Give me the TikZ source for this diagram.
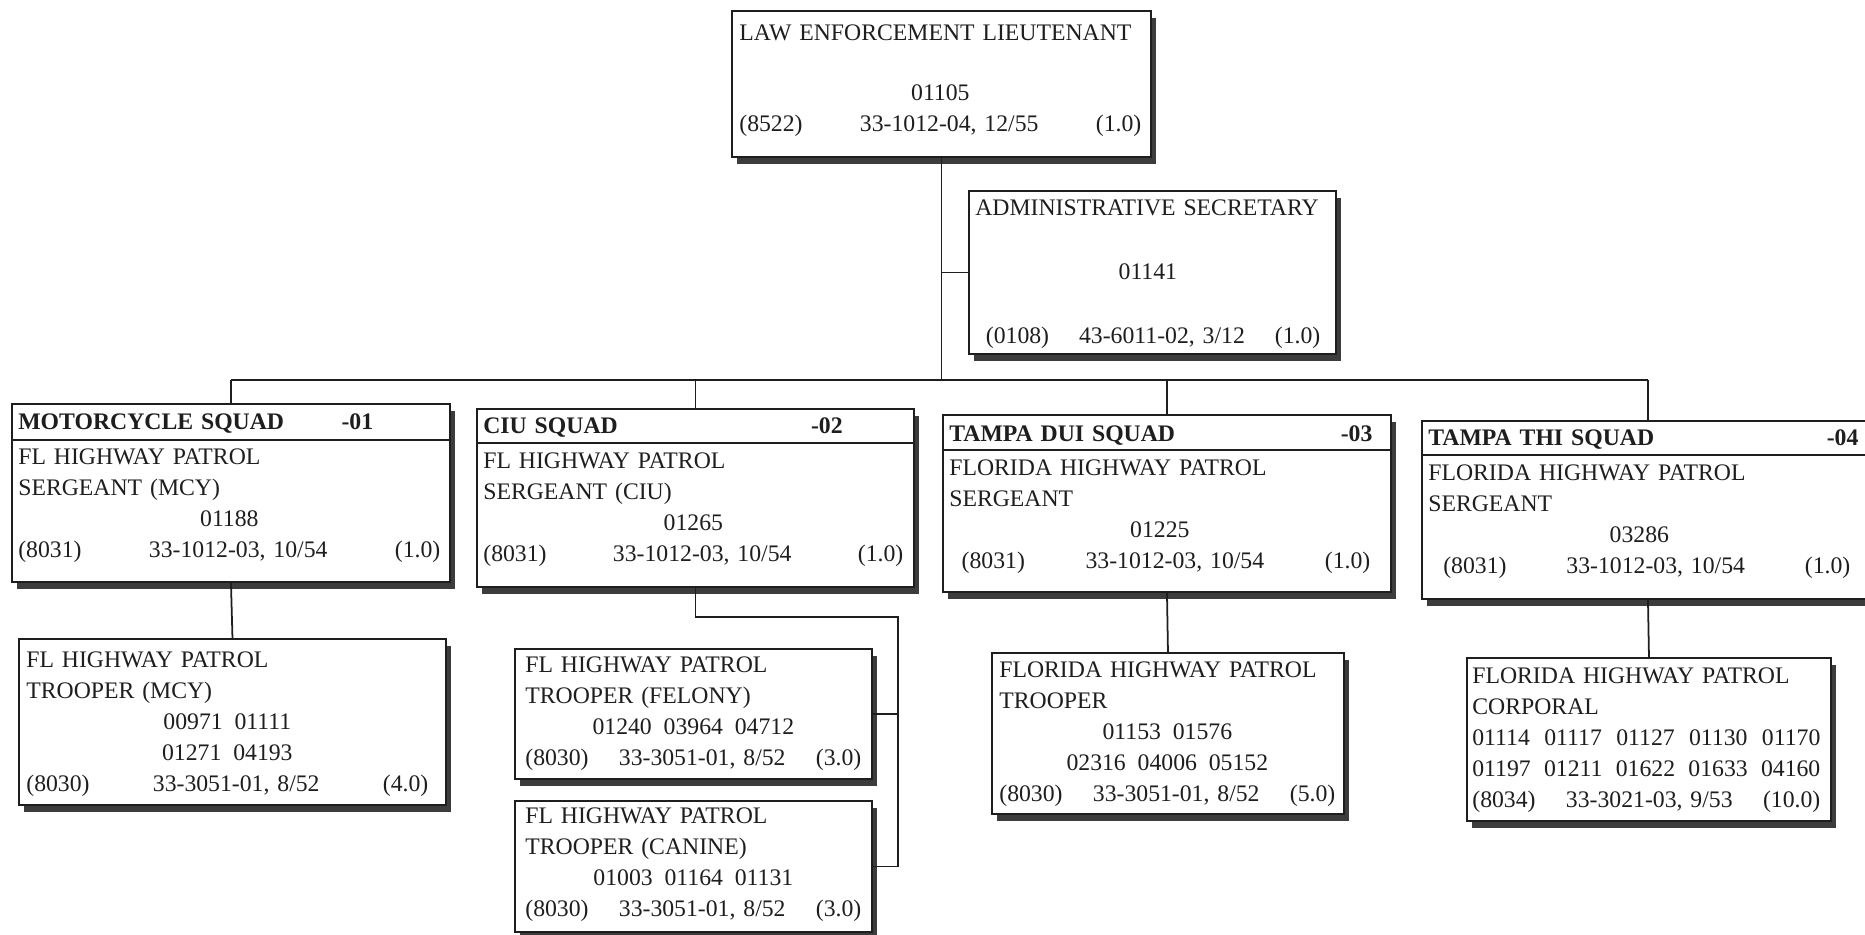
\documentclass[tikz,border=0pt]{standalone}
\usepackage{fontspec}
\setmainfont{Liberation Serif}
\usetikzlibrary{positioning, shadows}
\definecolor{ink}{HTML}{1E1E1E}
\definecolor{shade}{HTML}{3C3C3C}
\newcommand{\gap}{\hspace*{0pt plus 1filll}}
\newcommand{\ctr}[1]{\gap#1\gap\null}

\begin{document}
\begin{tikzpicture}[x=0.02cm, y=-0.02cm,
    post/.style 2 args={draw=ink, line width=1.1pt, fill=white, rectangle, anchor=north west, inner sep=0pt,
      minimum width=#1*0.02cm, minimum height=#2*0.02cm,
      drop shadow={shadow xshift=3pt, shadow yshift=-4pt, fill=shade, opacity=1}},
    txt/.style={anchor=base west, inner sep=0pt, align=left, text=ink, text width=#1*0.02cm,
      font=\fontsize{13.5}{17.7}\selectfont},
    link/.style={draw=ink, line width=1pt}]
  \useasboundingbox (0,0) rectangle (1865,935);

  % top of the chart
  \node[post={419}{146}] (LT) at (731,10) {};
  \node[txt=402] (LTx) at (739,41) {LAW ENFORCEMENT LIEUTENANT\\[16.3pt]
    \ctr{01105}\\
    (8522)\gap 33-1012-04, 12/55\gap (1.0)};
  \node[post={367}{163}] (SEC) at (968,190) {};
  \node[txt=345] (SECx) at (975,216) {ADMINISTRATIVE SECRETARY\\[18.6pt]
    \ctr{01141}\\[18.6pt]
    \hspace*{6pt}(0108)\gap 43-6011-02, 3/12\gap (1.0)};

  % squads
  \node[post={438}{178}] (MC) at (11,403) {};
  \node[txt=422] (MCx) at (18,430) {\makebox[184pt][l]{\textbf{MOTORCYCLE SQUAD}}\rlap{\textbf{-01}}\\[1.8pt]
    FL HIGHWAY PATROL\\ SERGEANT (MCY)\\ \ctr{01188}\\
    (8031)\gap 33-1012-03, 10/54\gap (1.0)};
  \node[post={437}{178}] (CIU) at (476,408) {};
  \node[txt=420] (CIUx) at (483,434) {\makebox[186.5pt][l]{\textbf{CIU SQUAD}}\rlap{\textbf{-02}}\\[1.8pt]
    FL HIGHWAY PATROL\\ SERGEANT (CIU)\\ \ctr{01265}\\
    (8031)\gap 33-1012-03, 10/54\gap (1.0)};
  \node[post={448}{177}] (DUI) at (942,414) {};
  \node[txt=421] (DUIx) at (949,441) {\makebox[222.8pt][l]{\textbf{TAMPA DUI SQUAD}}\rlap{\textbf{-03}}\\[1.8pt]
    FLORIDA HIGHWAY PATROL\\ SERGEANT\\ \ctr{01225}\\
    \hspace*{7pt}(8031)\gap 33-1012-03, 10/54\gap (1.0)};
  \node[post={452}{178}] (THI) at (1421,420) {};
  \node[txt=422] (THIx) at (1428,445) {\makebox[226.8pt][l]{\textbf{TAMPA THI SQUAD}}\rlap{\textbf{-04}}\\[2.5pt]
    FLORIDA HIGHWAY PATROL\\ SERGEANT\\ \ctr{03286}\\
    \hspace*{8.5pt}(8031)\gap 33-1012-03, 10/54\gap (1.0)};
  \draw[link, line width=1.1pt] ([yshift=-21pt]MC.north west) -- ([yshift=-21pt]MC.north east);
  \draw[link, line width=1.1pt] ([yshift=-19.8pt]CIU.north west) -- ([yshift=-19.8pt]CIU.north east);
  \draw[link, line width=1.1pt] ([yshift=-20.4pt]DUI.north west) -- ([yshift=-20.4pt]DUI.north east);
  \draw[link, line width=1.1pt] ([yshift=-19.8pt]THI.north west) -- ([yshift=-19.8pt]THI.north east);

  % troopers and corporals
  \node[post={427}{166}] (MCT) at (18,638) {};
  \node[txt=402] (MCTx) at (26,667) {FL HIGHWAY PATROL\\ TROOPER (MCY)\\
    \ctr{00971\enspace 01111}\\ \ctr{01271\enspace 04193}\\
    (8030)\gap 33-3051-01, 8/52\gap (4.0)};
  \node[post={357}{130}] (FEL) at (514,648) {};
  \node[txt=336] (FELx) at (525,672) {FL HIGHWAY PATROL\\ TROOPER (FELONY)\\
    \ctr{01240\enspace 03964\enspace 04712}\\
    (8030)\gap 33-3051-01, 8/52\gap (3.0)};
  \node[post={357}{131}] (CAN) at (514,800) {};
  \node[txt=336] (CANx) at (525,823) {FL HIGHWAY PATROL\\ TROOPER (CANINE)\\
    \ctr{01003\enspace 01164\enspace 01131}\\
    (8030)\gap 33-3051-01, 8/52\gap (3.0)};
  \node[post={352}{161}] (DUT) at (991,652) {};
  \node[txt=336] (DUTx) at (999,677) {FLORIDA HIGHWAY PATROL\\ TROOPER\\
    \ctr{01153\enspace 01576}\\ \ctr{02316\enspace 04006\enspace 05152}\\
    (8030)\gap 33-3051-01, 8/52\gap (5.0)};
  \node[post={364}{163}] (COR) at (1466,657) {};
  \node[txt=348] (CORx) at (1472,683) {FLORIDA HIGHWAY PATROL\\ CORPORAL\\
    01114\gap 01117\gap 01127\gap 01130\gap 01170\null\\
    01197\gap 01211\gap 01622\gap 01633\gap 04160\null\\
    (8034)\gap 33-3021-03, 9/53\gap (10.0)};

  % lines
  \coordinate (bus) at (941,380);
  \coordinate (rail) at (898,617);
  \draw[link] (LT.south) -- (LT.south |- bus);
  \draw[link] (LT.south |- SEC.west) -- (SEC.west);
  \draw[link] (bus -| MC.north) -- (bus -| THI.north);
  \foreach \s in {MC, CIU, DUI, THI}
    \draw[link] (bus -| \s.north) -- (\s.north);
  \draw[link] (MC.south) -- (MCT.north);
  \draw[link] (CIU.south) |- (rail) |- (CAN.east);
  \draw[link] (FEL.east) -- (FEL.east -| rail);
  \draw[link] (DUI.south) -- (DUT.north);
  \draw[link] (THI.south) -- (COR.north);
\end{tikzpicture}
\end{document}
